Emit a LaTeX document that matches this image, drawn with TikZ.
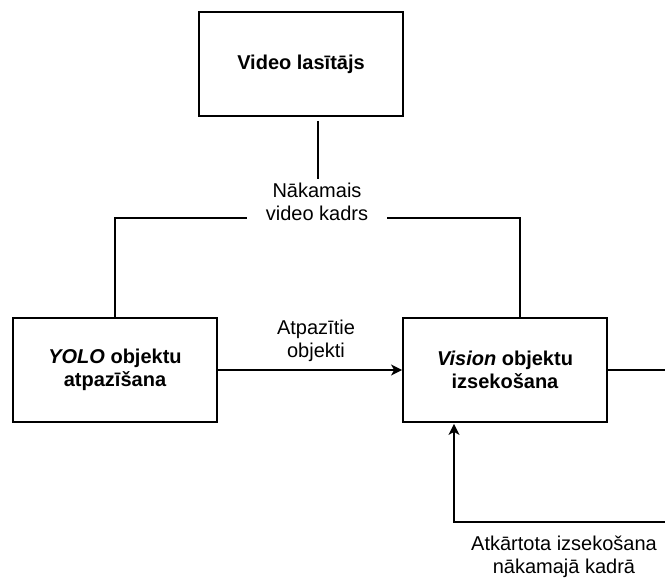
\documentclass[tikz,border=0pt]{standalone}
\usepackage{fontspec}
\setmainfont{Liberation Sans}
\usetikzlibrary{arrows.meta}
\usetikzlibrary{positioning}

\begin{document}
\begin{tikzpicture}[x=1pt,y=-1pt,
  box/.style={draw,line width=1.8pt,minimum width=204pt,minimum height=104pt,align=center,font=\fontsize{20}{23}\selectfont\bfseries},
  lbl/.style={align=center,font=\fontsize{20}{23}\selectfont},
  link/.style={line width=1.8pt},
  arr/.style={line width=1.8pt,-{Stealth[length=11pt,width=11pt,inset=3pt]}}]
\clip (0,0) rectangle (665,579);
\fill[white] (0,0) rectangle (665,579);

\node[box] (reader) at (301,64) {Video lasītājs};
\node[box] (yolo) at (115,370) {\textit{YOLO} objektu\\atpazīšana};
\node[box] (vision) at (505,370) {\textit{Vision} objektu\\izsekošana};

\coordinate (split) at (318,218);
\coordinate (vtop) at (520,218);
\draw[link,shorten <=4pt] (reader.south -| split) -- (split) -| (yolo.north);
\draw[link] (split) -- (vtop) -- (vtop |- vision.north);
\node[lbl,fill=white,inner xsep=19pt,inner ysep=4pt] (nextlbl) at (317,202) {Nākamais\\video kadrs};

\draw[arr] (yolo.east) -- (vision.west);
\node[lbl] (foundlbl) at (316,341) {Atpazītie\\objekti};

\coordinate (loopout) at (690,370);
\coordinate (retrack) at (454,522);
\draw[arr,shorten >=1pt] (vision.east) -- (loopout) |- (retrack) -- (retrack |- vision.south);
\node[lbl] (retracklbl) at (564,557) {Atkārtota izsekošana\\nākamajā kadrā};

\end{tikzpicture}
\end{document}
